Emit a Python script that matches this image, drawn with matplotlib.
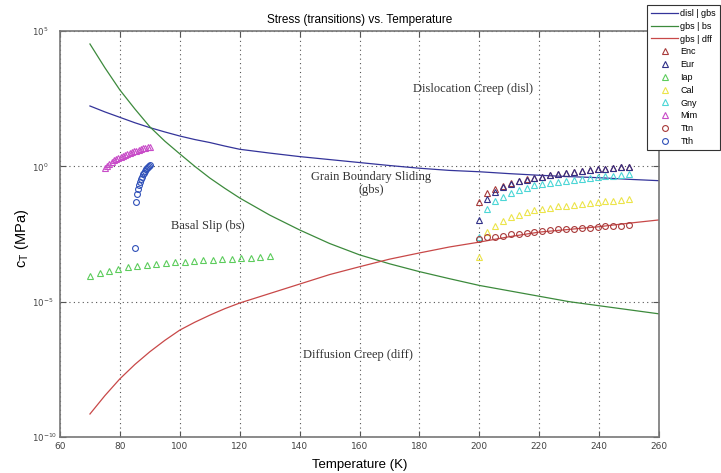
import numpy as np
import matplotlib.pyplot as plt
from matplotlib.lines import Line2D

# transition curves, log10 of stress (MPa) against temperature (K)
T_curve = [70, 75, 80, 85, 90, 95, 100, 105, 110, 115, 120, 130, 140, 150, 160,
           170, 180, 190, 200, 210, 220, 230, 240, 250, 260]
disl_gbs = [2.23, 2.01, 1.81, 1.61, 1.43, 1.27, 1.12, 0.99, 0.88, 0.75, 0.63,
            0.49, 0.36, 0.25, 0.14,
            0.03, -0.07, -0.15, -0.20, -0.27, -0.33, -0.38, -0.42, -0.48, -0.53]
gbs_bs = [4.52, 3.64, 2.82, 2.12, 1.46, 0.93, 0.46, 0.00, -0.43, -0.81, -1.17,
          -1.80, -2.35, -2.85, -3.27,
          -3.60, -3.89, -4.15, -4.40, -4.60, -4.80, -5.00, -5.15, -5.30, -5.45]
gbs_dff = [-9.15, -8.47, -7.85, -7.32, -6.85, -6.43, -6.05, -5.76, -5.50, -5.26,
           -5.05, -4.70, -4.35, -4.00, -3.71,
           -3.43, -3.20, -2.98, -2.80, -2.60, -2.43, -2.33, -2.23, -2.10, -1.98]

# moon data, log10 of stress (MPa)
T_hi = [200.0, 202.6, 205.3, 207.9, 210.5, 213.2, 215.8, 218.4, 221.1, 223.7,
        226.3, 228.9, 231.6, 234.2, 236.8, 239.5, 242.1, 244.7, 247.4, 250.0]
enc = [-1.30, -1.00, -0.84, -0.73, -0.63, -0.54, -0.48, -0.44, -0.38, -0.31,
       -0.27, -0.23, -0.20, -0.16, -0.13, -0.11, -0.09, -0.06, -0.04, -0.01]
eur = [-2.00, -1.20, -0.95, -0.78, -0.66, -0.56, -0.49, -0.44, -0.38, -0.31,
       -0.27, -0.23, -0.20, -0.16, -0.13, -0.11, -0.09, -0.06, -0.04, -0.01]
cal = [-3.34, -2.41, -2.19, -2.01, -1.86, -1.78, -1.69, -1.62, -1.56, -1.53,
       -1.48, -1.45, -1.42, -1.39, -1.35, -1.32, -1.29, -1.27, -1.24, -1.22]
gny = [-2.60, -1.58, -1.27, -1.12, -0.97, -0.89, -0.80, -0.70, -0.65, -0.62,
       -0.58, -0.53, -0.49, -0.46, -0.43, -0.39, -0.37, -0.35, -0.32, -0.29]
ttn = [-2.68, -2.62, -2.60, -2.56, -2.51, -2.49, -2.45, -2.41, -2.38, -2.35,
       -2.33, -2.32, -2.30, -2.27, -2.26, -2.25, -2.22, -2.20, -2.19, -2.17]

T_iap = [70.0, 73.2, 76.3, 79.5, 82.6, 85.8, 88.9, 92.1, 95.3, 98.4,
         101.6, 104.7, 107.9, 111.1, 114.2, 117.4, 120.5, 123.7, 126.8, 130.0]
iap = [-4.04, -3.94, -3.86, -3.79, -3.73, -3.69, -3.65, -3.62, -3.58, -3.55,
       -3.52, -3.49, -3.47, -3.45, -3.43, -3.41, -3.39, -3.37, -3.35, -3.33]

T_mim = [75.0, 75.75, 76.5, 77.25, 78.0, 78.75, 79.5, 80.25, 81.0, 81.75, 82.5,
         83.25, 84.0, 84.75, 85.5, 86.25, 87.0, 87.75, 88.5, 89.25, 90.0]
mim = [-0.07, 0.02, 0.10, 0.17, 0.22, 0.27, 0.31, 0.35, 0.39, 0.43, 0.46,
       0.49, 0.52, 0.55, 0.58, 0.61, 0.64, 0.66, 0.69, 0.71, 0.73]

T_tth = [85.0, 85.33, 85.67, 86.0, 86.33, 86.67, 87.0, 87.33,
         87.67, 88.0, 88.33, 88.67, 89.0, 89.33, 89.67, 90.0]
tth = [-3.03, -1.33, -1.02, -0.82, -0.68, -0.57, -0.47, -0.38,
       -0.30, -0.23, -0.17, -0.11, -0.06, -0.02, 0.02, 0.05]

c_disl = '#34349a'
c_bs = '#3c8a3c'
c_dff = '#c84848'

fig = plt.figure(figsize=(7.21, 4.73), dpi=100)
ax = fig.add_axes([60/721, 36/473, 599/721, 406/473])

def p(v):
    return 10.0 ** np.array(v)

ax.plot(T_curve, p(disl_gbs), color=c_disl, lw=0.9)
ax.plot(T_curve, p(gbs_bs), color=c_bs, lw=0.9)
ax.plot(T_curve, p(gbs_dff), color=c_dff, lw=0.9)

mk = dict(ls='none', ms=4.2, mew=0.8, mfc='none')
series = [
    ('Enc', T_hi, enc, '^', '#a83a3a'),
    ('Eur', T_hi, eur, '^', '#303088'),
    ('Iap', T_iap, iap, '^', '#5ccc5c'),
    ('Cal', T_hi, cal, '^', '#ece44a'),
    ('Gny', T_hi, gny, '^', '#4cd6d6'),
    ('Mim', T_mim, mim, '^', '#c84cc8'),
    ('Ttn', T_hi, ttn, 'o', '#a83a3a'),
    ('Tth', T_tth, tth, 'o', '#2f50b8'),
]
for name, t, v, m, c in series:
    ax.plot(t, p(v), marker=m, mec=c, **mk)

ax.set_yscale('log')
ax.set_xlim(60, 260)
ax.set_ylim(1e-10, 1e5)
ax.set_xticks(range(60, 261, 20))
ax.set_yticks([1e-10, 1e-5, 1e0, 1e5])
ax.yaxis.set_minor_locator(plt.NullLocator())
ax.grid(True, ls=(0, (1, 3)), color='#555555', lw=0.8)
ax.tick_params(direction='in', top=True, right=True, labelsize=6.5,
               labelcolor='#444444', color='#555555', length=4)
# exponent labels start at a common left edge
ax.tick_params(axis='y', pad=20, labelsize=6.2)
for lbl in ax.get_yticklabels():
    lbl.set_horizontalalignment('left')
for s in ax.spines.values():
    s.set_color('#777777')
    s.set_linewidth(1.2)

ax.set_title('Stress (transitions) vs. Temperature', fontsize=8.5,
             family='Liberation Sans', pad=6)
ax.set_xlabel('Temperature (K)', fontsize=9.5, family='Liberation Sans', labelpad=6)
ax.set_ylabel(r'c$_\mathregular{T}$ (MPa)', fontsize=10.5, family='Liberation Sans')
ax.yaxis.set_label_coords(-0.048, 0.49)

txt = dict(family='Liberation Serif', fontsize=9, color='#333333', ha='center', va='center')
ax.text(198, 10**2.85, 'Dislocation Creep (disl)', **txt)
ax.text(164, 10**-0.65, 'Grain Boundary Sliding\n(gbs)', linespacing=1.1, **txt)
ax.text(109.5, 10**-2.2, 'Basal Slip (bs)', **txt)
ax.text(159.5, 10**-6.97, 'Diffusion Creep (diff)', **txt)

handles = [Line2D([], [], color=c_disl, lw=0.9, label='disl | gbs'),
           Line2D([], [], color=c_bs, lw=0.9, label='gbs | bs'),
           Line2D([], [], color=c_dff, lw=0.9, label='gbs | dff')]
for name, t, v, m, c in series:
    handles.append(Line2D([], [], marker=m, mec=c, label=name, **mk))
leg = fig.legend(handles=handles, loc='upper left', bbox_to_anchor=(647/721, 1 - 5/473),
                 prop={'family': 'Liberation Sans', 'size': 6.5}, frameon=True,
                 fancybox=False, edgecolor='#333333', framealpha=1,
                 handlelength=3.0, labelspacing=0.42, borderpad=0.45,
                 handletextpad=0.25, borderaxespad=0)
leg.get_frame().set_linewidth(0.8)

fig.savefig('out.png', dpi=100)
